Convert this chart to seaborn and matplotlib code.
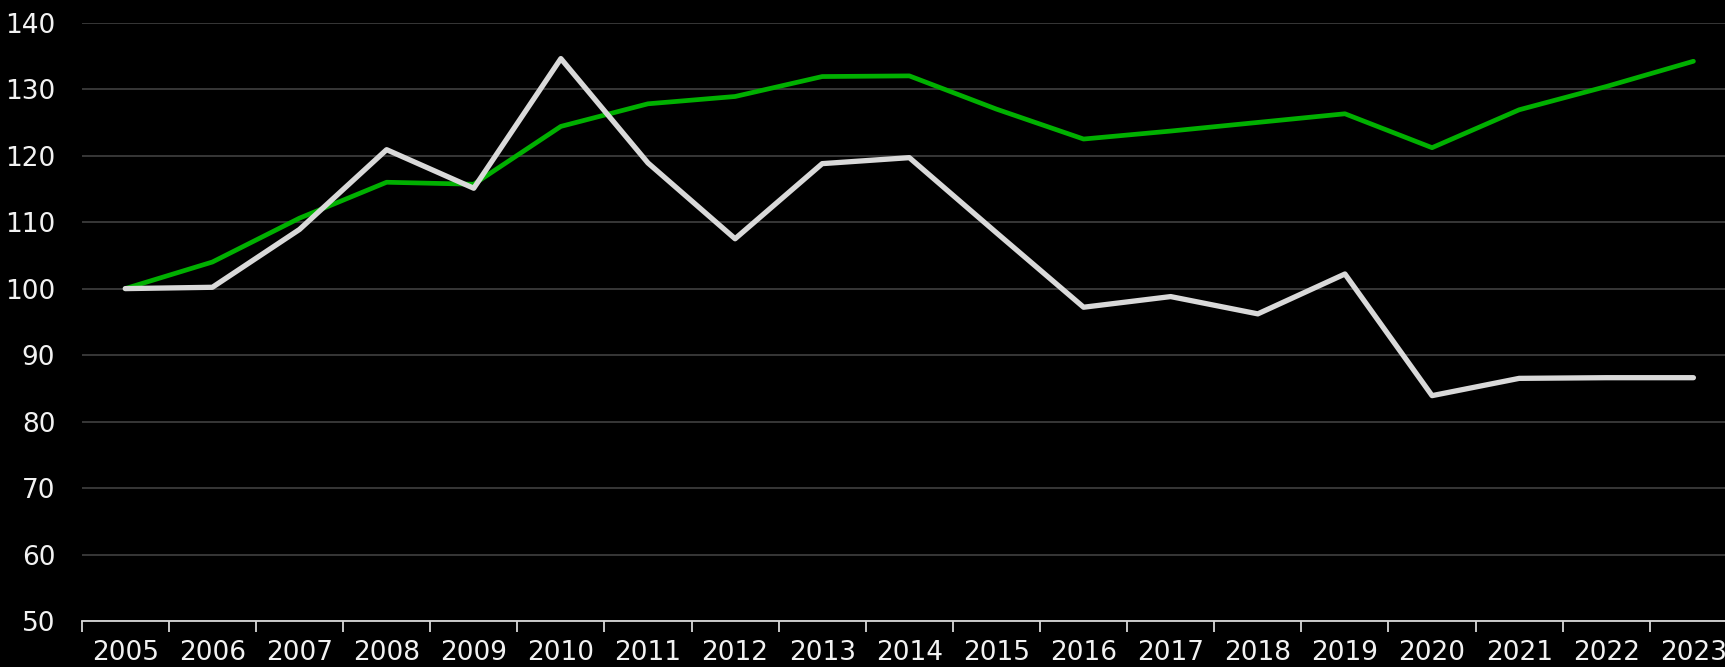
import matplotlib
matplotlib.use("Agg")
import matplotlib.pyplot as plt
import seaborn as sns
import pandas as pd
from matplotlib.ticker import FixedLocator

# values (index, 2005 = 100)
years = list(range(2005, 2024))
green_values = [100.0, 104.0, 110.6, 116.0, 115.7, 124.4, 127.8, 128.9, 131.9, 132.0,
                127.0, 122.5, 123.7, 125.0, 126.3, 121.2, 126.9, 130.4, 134.2]
white_values = [100.0, 100.2, 108.9, 120.9, 115.1, 134.6, 118.9, 107.5, 118.8, 119.7,
                108.4, 97.2, 98.8, 96.2, 102.2, 83.9, 86.5, 86.6, 86.6]
y_ticks = list(range(50, 141, 10))

df = pd.concat([
    pd.DataFrame({"year": years, "value": green_values, "series": "green"}),
    pd.DataFrame({"year": years, "value": white_values, "series": "white"}),
])

line_styles = {
    "green": dict(color="#00b000", linewidth=3.4),
    "white": dict(color="#d9d9d9", linewidth=3.8),
}

sns.set_theme(style="dark")
plt.rcParams["font.family"] = ["DejaVu Sans"]

fig = plt.figure(figsize=(17.25, 6.67), dpi=100, facecolor="black")
# axes runs a little past the right edge, like the original (2023 label is clipped)
ax = fig.add_axes([81.7 / 1725, 46 / 667, 87.12 * 19 / 1725, 598.3 / 667])
ax.set_facecolor("black")

for name, style in line_styles.items():
    sns.lineplot(data=df[df["series"] == name], x="year", y="value", ax=ax,
                 legend=False, solid_capstyle="round", solid_joinstyle="round", **style)

ax.set_xlim(years[0] - 0.5, years[-1] + 0.5)
ax.set_ylim(y_ticks[0], y_ticks[-1])
ax.set_xlabel("")
ax.set_ylabel("")

ax.set_yticks(y_ticks)
ax.set_xticks(years)
ax.set_xticklabels([str(y) for y in years])
ax.xaxis.set_minor_locator(FixedLocator([y - 0.5 for y in years]))

ax.tick_params(axis="y", length=0, pad=19, labelsize=19, labelcolor="#f2f2f2")
ax.tick_params(axis="x", which="major", bottom=True, length=0, pad=14, labelsize=19,
               labelcolor="#f2f2f2")
ax.tick_params(axis="x", which="minor", bottom=True, length=8, width=1.3, color="#d9d9d9",
               direction="out")

ax.yaxis.grid(True, color="#404040", linewidth=1.2)
ax.xaxis.grid(False)
ax.set_axisbelow(True)

for side in ["top", "right", "left"]:
    ax.spines[side].set_visible(False)
ax.spines["bottom"].set_color("#d9d9d9")
ax.spines["bottom"].set_linewidth(1.3)

fig.savefig("out.png", dpi=100, facecolor="black")
